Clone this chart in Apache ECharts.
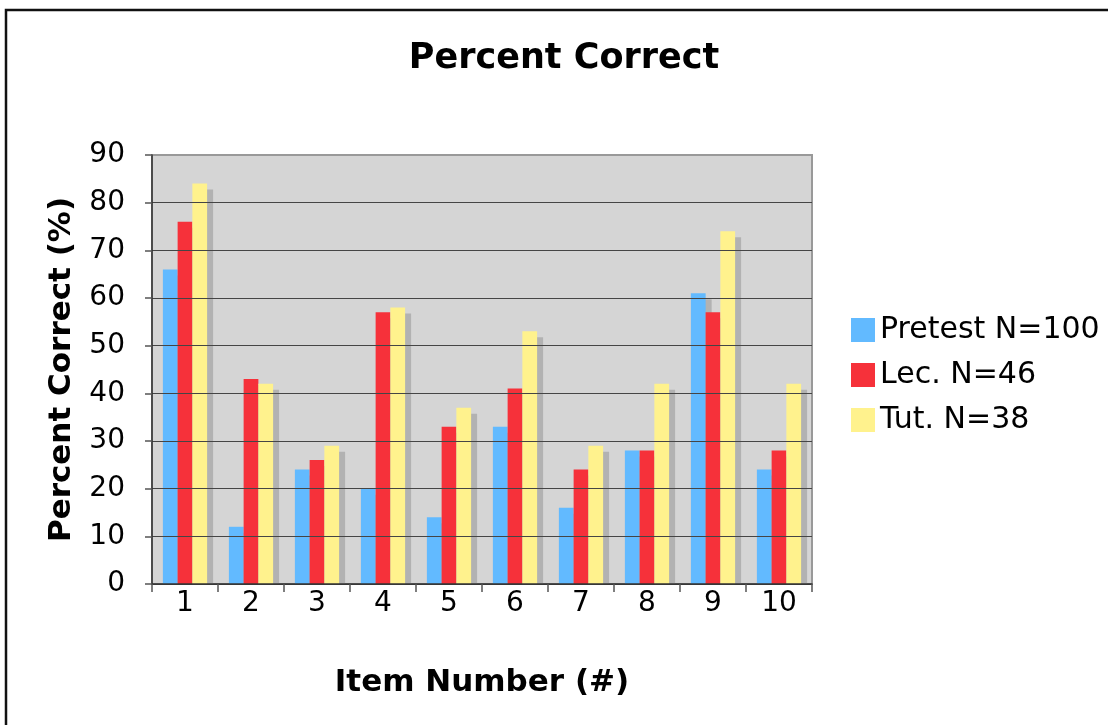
<!DOCTYPE html>
<html>
<head>
<meta charset="utf-8">
<script src="https://cdn.jsdelivr.net/npm/echarts@6/dist/echarts.min.js"></script>
<style>
html,body{margin:0;padding:0;background:#fff;}
#main{width:1108px;height:725px;}
</style>
</head>
<body>
<div id="main"></div>
<script>
const categories = ['1','2','3','4','5','6','7','8','9','10'];
const seriesNames = ['Pretest N=100','Lec. N=46','Tut. N=38'];
const pretest = [66, 12, 24, 20, 14, 33, 16, 28, 61, 24];
const lecture = [76, 43, 26, 57, 33, 41, 24, 28, 57, 28];
const tutorial = [84, 42, 29, 58, 37, 53, 29, 42, 74, 42];
const yTicks = [0, 10, 20, 30, 40, 50, 60, 70, 80, 90];

const colors = ['#62baff', '#f6313a', '#fff28d'];
const font = 'DejaVu Sans, Verdana, sans-serif';

const chart = echarts.init(document.getElementById('main'));
const GL = 152, GT = 155, GW = 660, GH = 429;

function barSeries(name, data, color) {
  return {
    name: name,
    type: 'bar',
    data: data,
    barGap: '0%',
    barCategoryGap: '33%',
    clip: true,
    itemStyle: {
      color: color,
      shadowColor: '#b2b2b2',
      shadowBlur: 0,
      shadowOffsetX: 6,
      shadowOffsetY: 6
    },
    emphasis: {disabled: true}
  };
}

const splitColors = yTicks.map((v, i) => i === yTicks.length - 1 ? '#999999' : '#454545');

chart.setOption({
  animation: false,
  backgroundColor: '#ffffff',
  title: {
    text: 'Percent Correct',
    left: 559,
    top: 36,
    textAlign: 'center',
    textStyle: {fontFamily: font, fontWeight: 'bold', fontSize: 35, color: '#000'}
  },
  grid: {
    left: GL, top: GT, width: GW, height: GH,
    show: true,
    backgroundColor: '#d5d5d5',
    borderColor: '#999999',
    borderWidth: 2,
    containLabel: false
  },
  legend: {
    orient: 'vertical',
    left: 846,
    top: 310,
    itemWidth: 24,
    itemHeight: 24,
    itemGap: 15,
    icon: 'rect',
    itemStyle: {shadowColor: 'rgba(0,0,0,0)', shadowOffsetX: 0, shadowOffsetY: 0, shadowBlur: 0},
    textStyle: {fontFamily: font, fontSize: 30, color: '#000', lineHeight: 30},
    data: seriesNames
  },
  xAxis: {
    type: 'category',
    data: categories,
    z: 10,
    name: 'Item Number (#)',
    nameLocation: 'middle',
    nameGap: 83,
    nameTextStyle: {fontFamily: font, fontWeight: 'bold', fontSize: 31, color: '#000'},
    axisLine: {lineStyle: {color: '#333', width: 1.5}},
    axisTick: {show: true, length: 8, lineStyle: {color: '#555', width: 1.5}, alignWithLabel: false},
    axisLabel: {fontFamily: font, fontSize: 28, color: '#000', margin: 6},
    splitLine: {show: false}
  },
  yAxis: {
    type: 'value',
    min: 0,
    max: 90,
    interval: 10,
    z: 10,
    name: 'Percent Correct (%)',
    nameLocation: 'middle',
    nameRotate: 90,
    nameGap: 75,
    nameTextStyle: {fontFamily: font, fontWeight: 'bold', fontSize: 31, color: '#000'},
    axisLine: {show: true, lineStyle: {color: '#333', width: 1.5}},
    axisTick: {show: true, length: 7, lineStyle: {color: '#555', width: 1.5}},
    axisLabel: {fontFamily: font, fontSize: 28, color: '#000', margin: 27},
    splitLine: {show: true, lineStyle: {color: splitColors, width: 1.2}}
  },
  graphic: [
    {
      type: 'polyline',
      z: 100,
      silent: true,
      shape: {points: [[6, 900], [6, 10], [1300, 10]]},
      style: {fill: 'none', stroke: '#111', lineWidth: 2.5}
    },
    {
      type: 'rect',
      z: 5,
      silent: true,
      shape: {x: GL + 1, y: GT + GH + 1, width: GW + 10, height: 10},
      style: {fill: '#ffffff'}
    }
  ],
  series: [
    barSeries(seriesNames[0], pretest, colors[0]),
    barSeries(seriesNames[1], lecture, colors[1]),
    barSeries(seriesNames[2], tutorial, colors[2])
  ]
});
</script>
</body>
</html>
